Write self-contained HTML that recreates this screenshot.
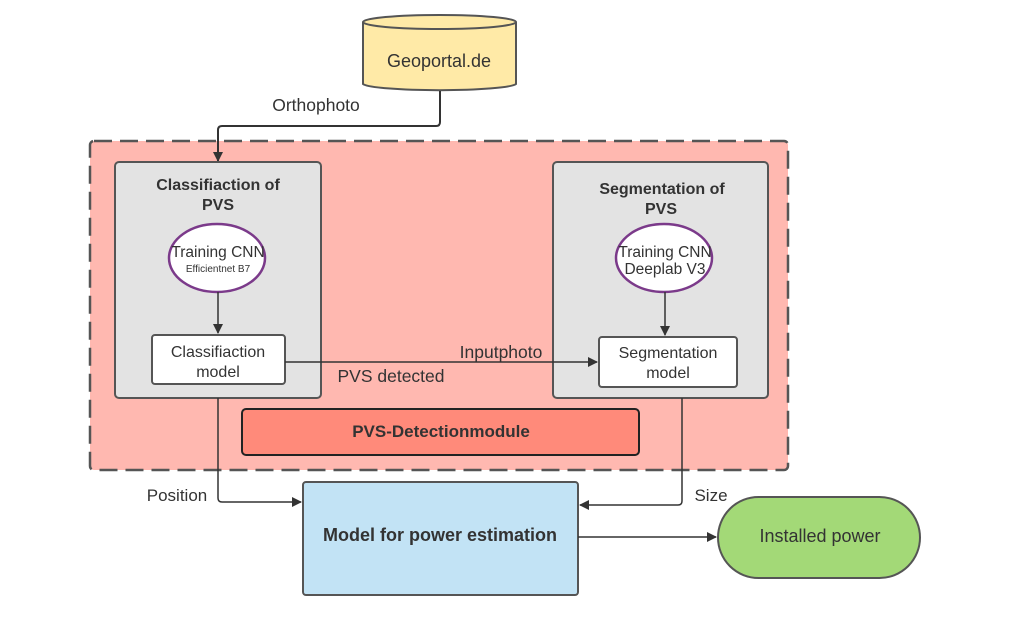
<!DOCTYPE html>
<html><head><meta charset="utf-8"><style>
html,body{margin:0;padding:0;background:#fff}
svg{display:block}
text{font-family:"Liberation Sans",sans-serif;fill:#333}
</style></head><body>
<svg width="1010" height="622" viewBox="0 0 1010 622" xmlns="http://www.w3.org/2000/svg">
<defs><marker id="a" markerWidth="10" markerHeight="10" refX="9" refY="5" orient="auto" markerUnits="userSpaceOnUse"><path d="M0,0 L10,5 L0,10 z" fill="#333"/></marker></defs>
<path d="M363,22 L363,84 A77,7 0 0 0 516,84 L516,22" fill="#ffeaa7" stroke="#555" stroke-width="2"/>
<ellipse cx="439.5" cy="22" rx="76.5" ry="7" fill="#ffeaa7" stroke="#555" stroke-width="2"/>
<text x="439" y="67" font-size="18" text-anchor="middle">Geoportal.de</text>
<rect x="90" y="141" width="698" height="329" rx="4" fill="#ffb8b0" stroke="#555" stroke-width="2.5" stroke-dasharray="18,8"/>
<path d="M440,91 L440,122 Q440,126 436,126 L222,126 Q218,126 218,130 L218,161" fill="none" stroke="#333" stroke-width="2" marker-end="url(#a)"/>
<text x="316" y="111" font-size="17.5" text-anchor="middle">Orthophoto</text>
<rect x="115" y="162" width="206" height="236" rx="4" fill="#e3e3e3" stroke="#555" stroke-width="2"/>
<text x="218" y="190" font-size="16" font-weight="bold" text-anchor="middle">Classifiaction of</text>
<text x="218" y="210" font-size="16" font-weight="bold" text-anchor="middle">PVS</text>
<ellipse cx="217" cy="258" rx="48" ry="34" fill="#fff" stroke="#7b3a8a" stroke-width="2.5"/>
<text x="218" y="257" font-size="15.5" text-anchor="middle">Training CNN</text>
<text x="218" y="272" font-size="10" text-anchor="middle">Efficientnet B7</text>
<line x1="218" y1="292" x2="218" y2="333" stroke="#333" stroke-width="1.5" marker-end="url(#a)"/>
<rect x="152" y="335" width="133" height="49" rx="3" fill="#fff" stroke="#555" stroke-width="2"/>
<text x="218" y="357" font-size="16" text-anchor="middle">Classifiaction</text>
<text x="218" y="377" font-size="16" text-anchor="middle">model</text>
<rect x="553" y="162" width="215" height="236" rx="4" fill="#e3e3e3" stroke="#555" stroke-width="2"/>
<text x="662" y="194" font-size="16" font-weight="bold" text-anchor="middle">Segmentation  of</text>
<text x="661" y="214" font-size="16" font-weight="bold" text-anchor="middle">PVS</text>
<ellipse cx="664" cy="258" rx="48" ry="34" fill="#fff" stroke="#7b3a8a" stroke-width="2.5"/>
<text x="665" y="257" font-size="15.5" text-anchor="middle">Training CNN</text>
<text x="665" y="274" font-size="15.5" text-anchor="middle">Deeplab V3</text>
<line x1="665" y1="292" x2="665" y2="335" stroke="#333" stroke-width="1.5" marker-end="url(#a)"/>
<rect x="599" y="337" width="138" height="50" rx="3" fill="#fff" stroke="#555" stroke-width="2"/>
<text x="668" y="358" font-size="16" text-anchor="middle">Segmentation</text>
<text x="668" y="378" font-size="16" text-anchor="middle">model</text>
<line x1="285" y1="362" x2="597" y2="362" stroke="#333" stroke-width="1.5" marker-end="url(#a)"/>
<text x="501" y="358" font-size="17.5" text-anchor="middle">Inputphoto</text>
<text x="391" y="382" font-size="17.5" text-anchor="middle">PVS detected</text>
<rect x="242" y="409" width="397" height="46" rx="4" fill="#ff8a7a" stroke="#222" stroke-width="2"/>
<text x="441" y="437" font-size="17" font-weight="bold" text-anchor="middle">PVS-Detectionmodule</text>
<path d="M218,398 L218,498 Q218,502 222,502 L301,502" fill="none" stroke="#333" stroke-width="1.5" marker-end="url(#a)"/>
<text x="177" y="501" font-size="17" text-anchor="middle">Position</text>
<path d="M682,398 L682,501 Q682,505 678,505 L580,505" fill="none" stroke="#333" stroke-width="1.5" marker-end="url(#a)"/>
<text x="711" y="501" font-size="17" text-anchor="middle">Size</text>
<rect x="303" y="482" width="275" height="113" rx="3" fill="#c2e3f5" stroke="#555" stroke-width="2"/>
<text x="440" y="541" font-size="18" font-weight="bold" text-anchor="middle">Model for power estimation</text>
<line x1="578" y1="537" x2="716" y2="537" stroke="#333" stroke-width="1.5" marker-end="url(#a)"/>
<rect x="718" y="497" width="202" height="81" rx="40.5" fill="#a3d977" stroke="#555" stroke-width="2"/>
<text x="820" y="542" font-size="18" text-anchor="middle">Installed power</text>
</svg>
</body></html>
